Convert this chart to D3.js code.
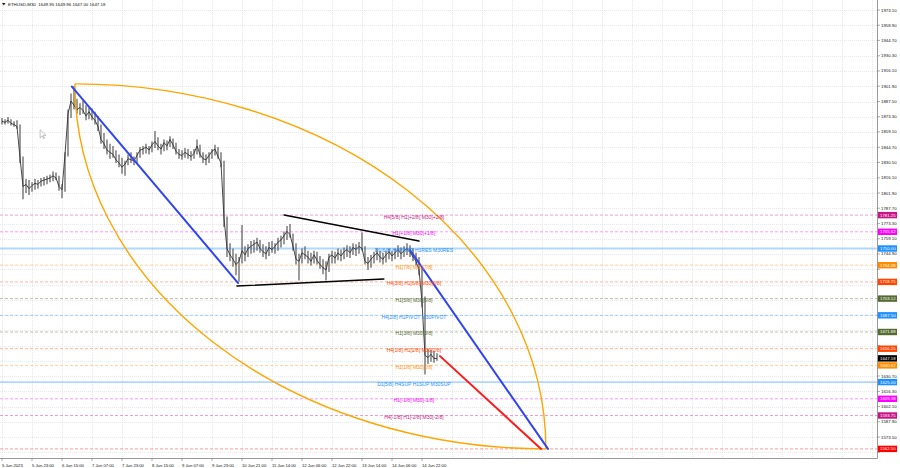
<!DOCTYPE html>
<html>
<head>
<meta charset="utf-8">
<script src="https://cdn.jsdelivr.net/npm/d3@7/dist/d3.min.js"></script>
<style>
  html,body{margin:0;padding:0;background:#fff;}
  svg{display:block;font-family:"Liberation Sans",Arial,sans-serif;}
</style>
</head>
<body>
<svg id="chart" width="900" height="468"></svg>
<script>
// ---------- DATA ----------
const symbolTitle = "ETHUSD,M30  1649.95 1649.96 1647.00 1647.18";
const priceTicks = ["1973.10","1958.90","1944.70","1930.30","1916.10","1901.90","1887.50","1873.30","1859.10","1844.70","1830.50","1816.10","1801.90","1787.70","1773.30","1759.10","1744.90","1730.50","1716.30","1702.10","1687.70","1673.50","1659.10","1644.90","1630.70","1616.30","1602.10","1587.90","1573.50","1559.30"];
const timeLabels = ["5 Jun 2023","5 Jun 23:00","6 Jun 15:00","7 Jun 07:00","7 Jun 23:00","8 Jun 15:00","9 Jun 07:00","9 Jun 23:00","10 Jun 21:00","11 Jun 14:00","12 Jun 06:00","12 Jun 22:00","13 Jun 14:00","14 Jun 06:00","14 Jun 22:00"];
const timeLabelBars = [0,10,20,30,40,50,60,70,80,90,100,110,120,130,140];

const high = [1872,1871,1873,1871,1869,1870,1866,1836,1815,1814,1812,1815,1814,1816,1817,1818,1819,1822,1821,1818,
1810,1840,1880,1895,1902,1890,1886,1888,1884,1882,1881,1878,1874,1866,1858,1852,1848,1846,1842,1838,
1835,1832,1838,1840,1836,1840,1845,1846,1848,1846,1850,1860,1854,1848,1852,1851,1855,1853,1849,1843,
1842,1844,1843,1841,1843,1852,1847,1840,1838,1840,1843,1847,1845,1840,1832,1780,1755,1750,1745,1742,
1772,1752,1754,1757,1758,1760,1758,1754,1752,1756,1757,1755,1760,1762,1766,1771,1773,1764,1755,1745,
1750,1752,1748,1746,1748,1747,1743,1740,1738,1745,1748,1747,1750,1749,1751,1753,1752,1755,1754,1756,
1765,1752,1742,1744,1747,1750,1748,1746,1748,1750,1748,1750,1753,1751,1752,1755,1753,1750,1746,1742,
1732,1705,1656,1655,1654,1652];
const low = [1866,1866,1867,1865,1864,1862,1830,1796,1802,1800,1803,1805,1806,1808,1809,1810,1812,1813,1814,1804,
1797,1803,1836,1872,1880,1876,1875,1876,1870,1871,1870,1866,1860,1848,1843,1838,1834,1835,1830,1826,
1820,1818,1828,1830,1828,1830,1835,1838,1839,1838,1840,1844,1842,1838,1841,1842,1845,1843,1838,1834,
1833,1835,1834,1832,1834,1838,1835,1830,1828,1830,1834,1837,1834,1826,1770,1742,1738,1733,1725,1719,
1736,1738,1742,1745,1746,1748,1746,1742,1740,1743,1746,1745,1748,1751,1754,1758,1760,1748,1735,1720,
1736,1740,1736,1734,1736,1735,1731,1726,1720,1728,1736,1736,1739,1738,1740,1742,1741,1744,1743,1745,
1748,1735,1730,1732,1736,1739,1737,1735,1737,1740,1738,1740,1742,1740,1742,1744,1742,1738,1734,1725,
1695,1632,1642,1644,1643,1645];
const close = [1869,1868,1870,1867,1866,1864,1835,1808,1810,1806,1809,1811,1810,1813,1814,1815,1816,1818,1816,1808,
1805,1838,1876,1888,1884,1880,1882,1879,1874,1878,1873,1870,1864,1852,1848,1842,1840,1838,1833,1830,
1826,1829,1834,1833,1832,1837,1842,1843,1845,1842,1847,1850,1846,1843,1849,1846,1852,1847,1841,1838,
1837,1840,1838,1836,1839,1846,1838,1834,1833,1837,1841,1843,1836,1830,1778,1750,1744,1740,1735,1738,
1748,1744,1750,1752,1754,1756,1750,1747,1745,1751,1749,1752,1756,1758,1762,1766,1763,1752,1740,1738,
1746,1744,1742,1738,1744,1739,1735,1732,1730,1742,1744,1741,1746,1743,1747,1749,1746,1751,1749,1752,
1750,1738,1736,1740,1743,1746,1742,1740,1744,1747,1743,1746,1749,1745,1748,1750,1747,1742,1738,1730,
1700,1650,1648,1651,1647,1647.18];
const lastPrice = 1647.18;

const levelPrices = [1781.25,1765.62,1750.00,1734.38,1718.75,1703.12,1687.50,1671.88,1656.25,1640.62,1625.00,1609.38,1593.75,1562.50];
const levelTexts = ["H4[5/8] H1[+2/8] M30[+2/8]","H1[+1/8] M30[+1/8]","D1[6/8] H4PIVOT H1RES M30RES","H1[7/8] M30[7/8]","H4[3/8] H1[6/8] M30[6/8]","H1[5/8] M30[5/8]","H4[2/8] H1PIVOT M30PIVOT","H1[3/8] M30[3/8]","H4[1/8] H1[2/8] M30[2/8]","H1[1/8] M30[1/8]","D1[5/8] H4SUP H1SUP M30SUP","H1[-1/8] M30[-1/8]","H4[-1/8] H1[-2/8] M30[-2/8]",""];
const levelLabelBar = 137.3;

// drawn objects: [bar index, price]
const blueLine1 = [[23.3,1901.5],[78.7,1717.7]];
const blueLine2 = [[136,1748.6],[182,1562.5]];
const blackUpper = [[94,1781.4],[139,1757.0]];
const blackLower = [[78.3,1714.9],[127.3,1721.4]];
const redLine = [[146,1649.3],[179.7,1562.5]];
const arcFrom = [24.3,1904.0];
const arcTo = [181.3,1562.5];
const cursorAt = [12.7,1861];

// ---------- STYLES ----------
const levelColors = ["#c71585","#ff00ff","#1e90ff","#ff8c00","#ff4500","#556b2f","#1e90ff","#556b2f","#ff4500","#ff8c00","#1e90ff","#ff00ff","#c71585","#ff0000"];
const levelSolid = [false,false,true,false,false,false,false,false,false,false,true,false,false,false];

// ---------- SCALES ----------
const plotRight = 877, plotBottom = 458;
const x = d3.scaleLinear().domain([0,1]).range([2,5]);
const y = d3.scaleLinear().domain([1562.5,1750]).range([448.9,248.5]);

const svg = d3.select("#chart");
const gGrid = svg.append("g");

// horizontal grid
gGrid.selectAll("line.hg").data(priceTicks).enter().append("line")
  .attr("x1",0).attr("x2",plotRight)
  .attr("y1",d=>Math.round(y(+d))+0.5).attr("y2",d=>Math.round(y(+d))+0.5)
  .attr("stroke","#dedede").attr("stroke-width",0.7).attr("stroke-dasharray","1,1");
// vertical grid
const vBars = d3.range(0, 300, 10).filter(i=>x(i) < plotRight);
gGrid.selectAll("line.vg").data(vBars).enter().append("line")
  .attr("x1",d=>x(d)+0.5).attr("x2",d=>x(d)+0.5)
  .attr("y1",0).attr("y2",plotBottom)
  .attr("stroke","#dedede").attr("stroke-width",0.7).attr("stroke-dasharray","1,1");

// level lines
const gLev = svg.append("g");
levelPrices.forEach((p,k)=>{
  gLev.append("line")
    .attr("x1",0).attr("x2",plotRight)
    .attr("y1",y(p)).attr("y2",y(p))
    .attr("stroke",levelColors[k])
    .attr("stroke-opacity",levelSolid[k]?0.35:0.45)
    .attr("stroke-width",levelSolid[k]?1.8:0.9)
    .attr("stroke-dasharray",levelSolid[k]?null:"3,2");
});

// bars
const gBars = svg.append("g");
gBars.selectAll("line.bar").data(high).enter().append("line")
  .attr("x1",(d,i)=>x(i)).attr("x2",(d,i)=>x(i))
  .attr("y1",(d)=>y(d)).attr("y2",(d,i)=>y(low[i]))
  .attr("stroke","#4a4a4a").attr("stroke-width",1.1);
gBars.append("path")
  .attr("d", d3.line().x((d,i)=>x(i)).y(d=>y(d))(close))
  .attr("fill","none").attr("stroke","#333").attr("stroke-width",0.9);

// orange arcs (quarter ellipses)
const ax0 = x(arcFrom[0]), ay0 = y(arcFrom[1]), ax1 = x(arcTo[0]), ay1 = y(arcTo[1]);
const rx = ax1-ax0, ry = ay1-ay0;
svg.append("path")
  .attr("d",`M${ax0},${ay0} A${rx},${ry} 0 0 1 ${ax1},${ay1}`)
  .attr("fill","none").attr("stroke","#ffa500").attr("stroke-width",1.4);
svg.append("path")
  .attr("d",`M${ax0},${ay0} A${rx},${ry} 0 0 0 ${ax1},${ay1}`)
  .attr("fill","none").attr("stroke","#ffa500").attr("stroke-width",1.4);

// trend lines
const seg = d3.line().x(d=>x(d[0])).y(d=>y(d[1]));
function drawSeg(data,color,w){
  svg.append("path").attr("d",seg(data)).attr("fill","none")
    .attr("stroke",color).attr("stroke-width",w).attr("stroke-linecap","round");
}
drawSeg(blueLine1,"#2f45f2",2);
drawSeg(blueLine2,"#2f45f2",2);
drawSeg(blackUpper,"#000",1.4);
drawSeg(blackLower,"#000",1.4);
drawSeg(redLine,"#ff1a1a",2);

// level texts
const gLT = svg.append("g");
levelPrices.forEach((p,k)=>{
  if(!levelTexts[k]) return;
  gLT.append("text")
    .attr("x",x(levelLabelBar)).attr("y",y(p)+1.5)
    .attr("text-anchor","middle").attr("dominant-baseline","central")
    .attr("font-size",5).attr("fill",levelColors[k])
    .text(levelTexts[k]);
});

// cursor
const cx = x(cursorAt[0]), cy = y(cursorAt[1]);
svg.append("path")
  .attr("d",`M${cx},${cy} l0,8 l2,-2 l1.5,3 l1,-0.5 l-1.5,-3 l3,0 z`)
  .attr("fill","#fff").attr("stroke","#888").attr("stroke-width",0.5);

// frame
svg.append("line").attr("x1",plotRight+0.5).attr("x2",plotRight+0.5).attr("y1",0).attr("y2",plotBottom+0.5)
  .attr("stroke","#9a9a9a").attr("stroke-width",1);
svg.append("line").attr("x1",0).attr("x2",plotRight+0.5).attr("y1",plotBottom+0.5).attr("y2",plotBottom+0.5)
  .attr("stroke","#9a9a9a").attr("stroke-width",1);

// price tags (drawn over the axis; tick labels hidden where a tag covers them)
const tagPrices = levelPrices.concat([lastPrice]);
const tagColors = levelColors.concat(["#000"]);
const tagYs = tagPrices.map(p=>y(p));

const gY = svg.append("g");
priceTicks.forEach(t=>{
  const yy = y(+t);
  gY.append("line").attr("x1",plotRight).attr("x2",plotRight+3).attr("y1",yy).attr("y2",yy)
    .attr("stroke","#777").attr("stroke-width",0.6);
  const covered = tagYs.some(ty=>Math.abs(ty-yy) < 4.2);
  if(covered) return;
  gY.append("text").attr("x",881).attr("y",yy).attr("dominant-baseline","central")
    .attr("font-size",4.3).attr("fill","#111").text(t);
});

tagPrices.forEach((p,k)=>{
  const yy = y(p);
  gY.append("rect").attr("x",878).attr("y",yy-3.2).attr("width",19).attr("height",6.4)
    .attr("fill",tagColors[k]);
  gY.append("text").attr("x",880).attr("y",yy).attr("dominant-baseline","central")
    .attr("font-size",4.3).attr("fill","#fff").text(p.toFixed(2));
});

// time axis
const gX = svg.append("g");
timeLabels.forEach((t,k)=>{
  const xx = x(timeLabelBars[k]);
  gX.append("line").attr("x1",xx).attr("x2",xx).attr("y1",plotBottom).attr("y2",plotBottom+3)
    .attr("stroke","#777").attr("stroke-width",0.6);
  gX.append("text").attr("x",xx).attr("y",465).attr("dominant-baseline","central")
    .attr("font-size",4.2).attr("fill","#111").text(t);
});

// header
svg.append("path").attr("d","M2,3 L5.5,3 L3.75,5.5 Z").attr("fill","#222");
svg.append("text").attr("x",8).attr("y",4.6).attr("dominant-baseline","central")
  .attr("font-size",4.4).attr("fill","#111").attr("xml:space","preserve").text(symbolTitle);
</script>
</body>
</html>
